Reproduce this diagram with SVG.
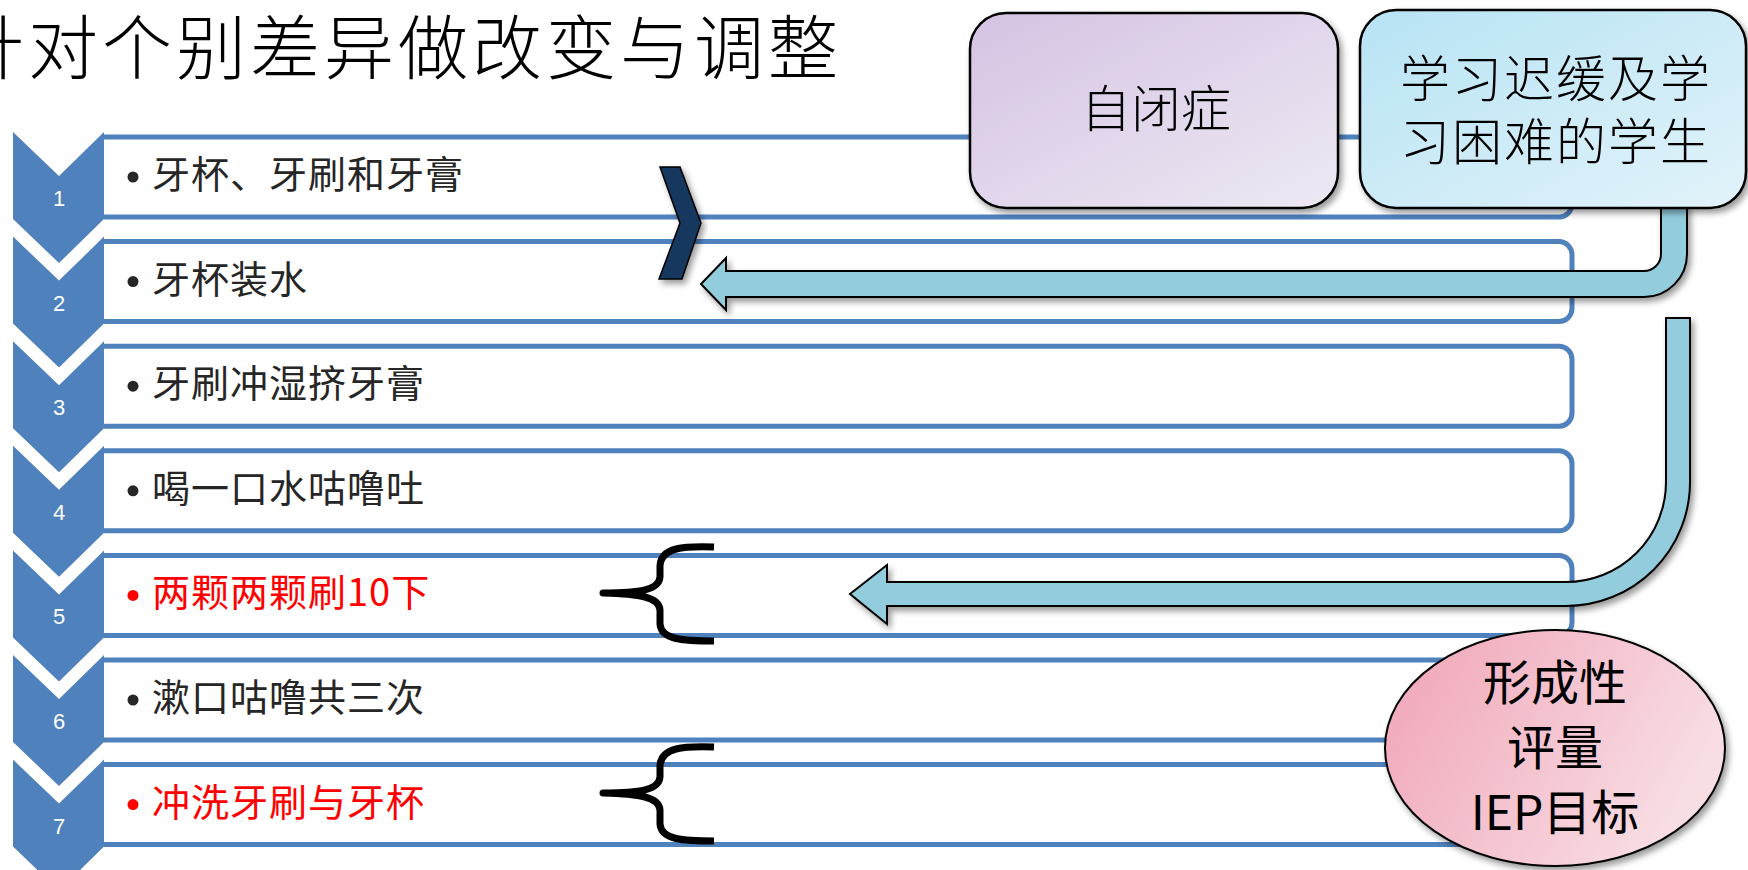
<svg xmlns="http://www.w3.org/2000/svg" width="1748" height="870" viewBox="0 0 1748 870">
  <defs>
    <style>
      .row { fill: #FFFFFF; stroke: #4F81BD; stroke-width: 5; }
      .chev { fill: #4F81BD; }
      .num { font-family: "Liberation Sans", "Noto Sans", sans-serif; font-size: 22px; fill: #FFFFFF; text-anchor: middle; }
      .item { font-family: "Noto Sans CJK SC", "Noto Sans", sans-serif; font-size: 38px; letter-spacing: 1px; fill: #262626; }
      .red { fill: #FF0000; }
      .big { font-family: "Noto Sans CJK SC", "Noto Sans", sans-serif; font-weight: 300; fill: #000000; text-anchor: middle; }
      .oval { font-family: "Noto Sans CJK SC", "Noto Sans", sans-serif; font-weight: 400; fill: #000000; text-anchor: middle; }
      .arrow { fill: #93CDDD; stroke: #000000; stroke-width: 2; stroke-linejoin: miter; }
      .brace { fill: none; stroke: #000000; stroke-width: 7; stroke-linecap: butt; stroke-linejoin: round; }
    </style>
    <filter id="sh" x="-10%" y="-10%" width="125%" height="135%">
      <feDropShadow dx="3" dy="4" stdDeviation="3" flood-color="#000000" flood-opacity="0.4"/>
    </filter>
    <linearGradient id="gPurple" x1="0" y1="0" x2="1" y2="1">
      <stop offset="0" stop-color="#D4C3E3"/>
      <stop offset="1" stop-color="#EEE9F3"/>
    </linearGradient>
    <linearGradient id="gBlue" x1="0" y1="0" x2="1" y2="1">
      <stop offset="0" stop-color="#B7E3F4"/>
      <stop offset="1" stop-color="#E2F3FA"/>
    </linearGradient>
    <linearGradient id="gPink" x1="0" y1="0" x2="1" y2="0.4">
      <stop offset="0" stop-color="#F0A3B6"/>
      <stop offset="1" stop-color="#F8DDE3"/>
    </linearGradient>
  </defs>

  <rect x="0" y="0" width="1748" height="870" fill="#FFFFFF"/>

  <text x="-46" y="74" font-family="'Noto Sans CJK SC', 'Noto Sans', sans-serif" font-weight="300" font-size="70" letter-spacing="4" fill="#000000">针对个别差异做改变与调整</text>

  <g id="step1">
    <path class="row" d="M104,137 H1559 A13,13 0 0 1 1572,150 V204 A13,13 0 0 1 1559,217 H104"/>
    <polygon class="chev" points="13,132 59,176 104,132 104,219 59,263 13,219"/>
    <text class="num" x="59" y="206">1</text>
    <circle cx="133" cy="177" r="5.5" fill="#262626"/>
    <text class="item" x="152" y="188">牙杯、牙刷和牙膏</text>
  </g>
  <g id="step2">
    <path class="row" d="M104,241.6 H1559 A13,13 0 0 1 1572,254.6 V308.6 A13,13 0 0 1 1559,321.6 H104"/>
    <polygon class="chev" points="13,236.6 59,280.6 104,236.6 104,323.6 59,367.6 13,323.6"/>
    <text class="num" x="59" y="310.6">2</text>
    <circle cx="133" cy="281.6" r="5.5" fill="#262626"/>
    <text class="item" x="152" y="292.6">牙杯装水</text>
  </g>
  <g id="step3">
    <path class="row" d="M104,346.2 H1559 A13,13 0 0 1 1572,359.2 V413.2 A13,13 0 0 1 1559,426.2 H104"/>
    <polygon class="chev" points="13,341.2 59,385.2 104,341.2 104,428.2 59,472.2 13,428.2"/>
    <text class="num" x="59" y="415.2">3</text>
    <circle cx="133" cy="386.2" r="5.5" fill="#262626"/>
    <text class="item" x="152" y="397.2">牙刷冲湿挤牙膏</text>
  </g>
  <g id="step4">
    <path class="row" d="M104,450.8 H1559 A13,13 0 0 1 1572,463.8 V517.8 A13,13 0 0 1 1559,530.8 H104"/>
    <polygon class="chev" points="13,445.8 59,489.8 104,445.8 104,532.8 59,576.8 13,532.8"/>
    <text class="num" x="59" y="519.8">4</text>
    <circle cx="133" cy="490.8" r="5.5" fill="#262626"/>
    <text class="item" x="152" y="501.8">喝一口水咕噜吐</text>
  </g>
  <g id="step5">
    <path class="row" d="M104,555.4 H1559 A13,13 0 0 1 1572,568.4 V622.4 A13,13 0 0 1 1559,635.4 H104"/>
    <polygon class="chev" points="13,550.4 59,594.4 104,550.4 104,637.4 59,681.4 13,637.4"/>
    <text class="num" x="59" y="624.4">5</text>
    <circle cx="133" cy="595.4" r="5.5" fill="#FF0000"/>
    <text class="item red" x="152" y="606.4">两颗两颗刷10下</text>
  </g>
  <g id="step6">
    <path class="row" d="M104,660 H1559 A13,13 0 0 1 1572,673 V727 A13,13 0 0 1 1559,740 H104"/>
    <polygon class="chev" points="13,655 59,699 104,655 104,742 59,786 13,742"/>
    <text class="num" x="59" y="729">6</text>
    <circle cx="133" cy="700" r="5.5" fill="#262626"/>
    <text class="item" x="152" y="711">漱口咕噜共三次</text>
  </g>
  <g id="step7">
    <path class="row" d="M104,764.6 H1559 A13,13 0 0 1 1572,777.6 V831.6 A13,13 0 0 1 1559,844.6 H104"/>
    <polygon class="chev" points="13,759.6 59,803.6 104,759.6 104,846.6 59,890.6 13,846.6"/>
    <text class="num" x="59" y="833.6">7</text>
    <circle cx="133" cy="804.6" r="5.5" fill="#FF0000"/>
    <text class="item red" x="152" y="815.6">冲洗牙刷与牙杯</text>
  </g>

  <g id="connectors">
    <path class="arrow" filter="url(#sh)" d="M1661,204 L1661,254 A17,17 0 0 1 1644,271 L726,271 L726,258 L701,284 L726,310 L726,297 L1644,297 A43,43 0 0 0 1687,254 L1687,204 Z"/>
    <path class="arrow" filter="url(#sh)" d="M1666,318 L1666,482 A100,100 0 0 1 1566,582 L887,582 L887,565 L850,594 L887,624 L887,606 L1566,606 A124,124 0 0 0 1690,482 L1690,318 Z"/>
    <polygon filter="url(#sh)" points="660,167 680,167 701,223 682,279 659,279 680,223" fill="#17375E" stroke="#000000" stroke-width="1.5"/>
    <path class="brace" d="M714,547 C684,546 661,547 660,566 L660,577 C659,590 640,593 603,593 C640,594 659,597 660,610 L660,624 C661,640 684,641 714,641"/>
    <path class="brace" d="M714,747 C684,746 661,747 660,766 L660,777 C659,790 640,793 603,793 C640,794 659,797 660,810 L660,824 C661,840 684,841 714,841"/>
  </g>

  <g id="autism">
    <rect x="970" y="13" width="368" height="195" rx="36" ry="36" fill="url(#gPurple)" stroke="#000000" stroke-width="2.5" filter="url(#sh)"/>
    <text class="big" x="1156" y="127" font-size="50">自闭症</text>
  </g>
  <g id="learning">
    <rect x="1360" y="10" width="386" height="198" rx="36" ry="36" fill="url(#gBlue)" stroke="#000000" stroke-width="2.5" filter="url(#sh)"/>
    <text class="big" x="1556" y="97" font-size="50" letter-spacing="2">学习迟缓及学</text>
    <text class="big" x="1556" y="160" font-size="50" letter-spacing="2">习困难的学生</text>
  </g>
  <g id="assessment">
    <ellipse cx="1555" cy="748" rx="170" ry="118" fill="url(#gPink)" stroke="#000000" stroke-width="2" filter="url(#sh)"/>
    <text class="oval" x="1555" y="700" font-size="48">形成性</text>
    <text class="oval" x="1555" y="765" font-size="48">评量</text>
    <text class="oval" x="1555" y="830" font-size="48">IEP目标</text>
  </g>
</svg>
